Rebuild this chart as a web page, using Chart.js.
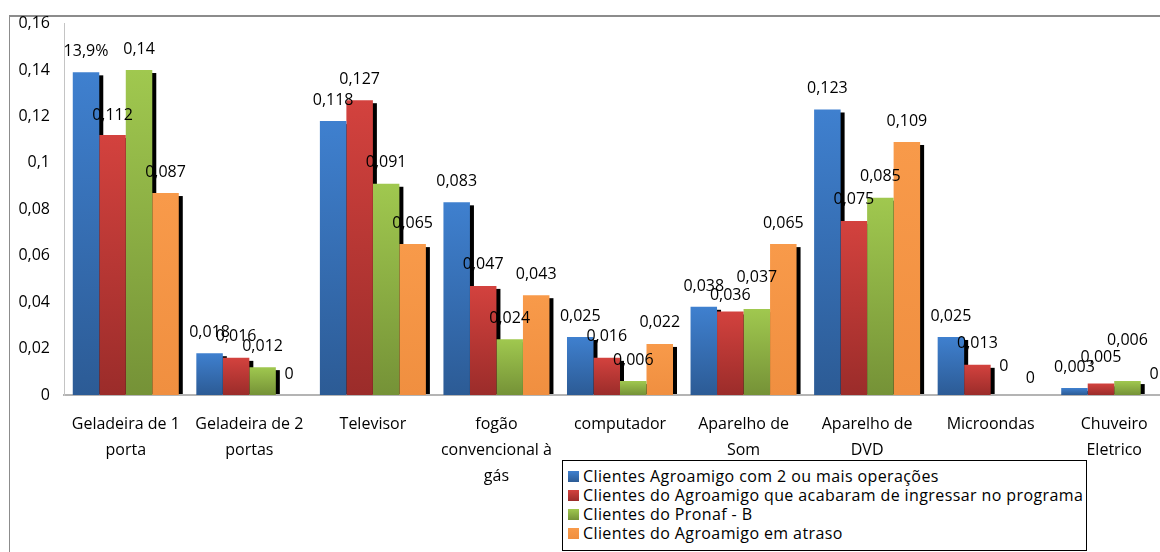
<!DOCTYPE html>
<html>
<head>
<meta charset="utf-8">
<script src="https://cdn.jsdelivr.net/npm/chart.js@4.4.1/dist/chart.umd.min.js"></script>
<style>
  html, body { margin: 0; padding: 0; background: #fff; overflow: hidden; width: 1160px; height: 552px; }
  #frame { position: absolute; left: 9px; top: 15px; width: 2000px; height: 1000px;
           border-top: 2px solid #8c8c8c; border-left: 1px solid #8c8c8c; }
  #wrap { position: absolute; left: 0; top: 0; width: 1200px; height: 552px; }
  #legend { position: absolute; left: 562px; top: 460px; width: 525px; height: 91px; box-sizing: border-box;
            border: 1px solid #000; background: #fff; padding-top: 6px;
            font-family: "Open Sans", sans-serif; font-size: 16px; color: #000; letter-spacing: 0.4px; }
  .row { height: 19px; line-height: 19px; white-space: nowrap; display: flex; align-items: center; }
  .sw { width: 11px; height: 11px; margin-left: 5px; margin-right: 4px; flex: none; }
</style>
</head>
<body>
<div id="frame"></div>
<div id="wrap"><canvas id="c" width="1200" height="552"></canvas></div>
<div id="legend"></div>
<script>
// ---- data ----
const categories = [
  ["Geladeira de 1", "porta"],
  ["Geladeira de 2", "portas"],
  "Televisor",
  ["fogão", "convencional à", "gás"],
  "computador",
  ["Aparelho de", "Som"],
  ["Aparelho de", "DVD"],
  "Microondas",
  ["Chuveiro", "Eletrico"]
];
const seriesNames = [
  "Clientes Agroamigo com 2 ou mais operações",
  "Clientes do Agroamigo que acabaram de ingressar no programa",
  "Clientes do Pronaf - B",
  "Clientes do Agroamigo em atraso"
];
const agroamigo2mais = [0.139, 0.018, 0.118, 0.083, 0.025, 0.038, 0.123, 0.025, 0.003];
const agroamigoNovos = [0.112, 0.016, 0.127, 0.047, 0.016, 0.036, 0.075, 0.013, 0.005];
const pronafB        = [0.14, 0.012, 0.091, 0.024, 0.006, 0.037, 0.085, 0, 0.006];
const agroamigoAtraso = [0.087, 0, 0.065, 0.043, 0.022, 0.065, 0.109, 0, 0];
const yTicks = [0, 0.02, 0.04, 0.06, 0.08, 0.1, 0.12, 0.14, 0.16];
// label text overrides (series index, category index)
const labelOverrides = { "0,0": "13,9%" };

// ---- styles ----
const colors = [
  { top: "#3f80cf", bottom: "#2c5b95", flat: "#3a6fb4" },
  { top: "#d3423e", bottom: "#9b2c2a", flat: "#c0393a" },
  { top: "#a0c84f", bottom: "#759237", flat: "#8eb043" },
  { top: "#f89a4a", bottom: "#f08f40", flat: "#f79646" }
];
const labelDy = { "2,8": -20, "1,8": -5, "2,7": -8, "3,7": 4, "1,0": 1, "1,5": 5, "2,5": -11, "0,5": 1 };
const FONT = '"Open Sans", sans-serif';

function fmt(v) {
  return String(Math.round(v * 1000) / 1000).replace('.', ',');
}

function gradFor(ci) {
  return (ctx) => {
    const chart = ctx.chart;
    const ys = chart.scales && chart.scales.y;
    if (!ys || ctx.type !== 'data' || !chart.chartArea) return colors[ci].flat;
    const v = ctx.raw;
    const y0 = ys.getPixelForValue(v), y1 = ys.getPixelForValue(0);
    if (!isFinite(y0) || !isFinite(y1) || y1 - y0 < 1) return colors[ci].top;
    const g = chart.ctx.createLinearGradient(0, y0, 0, y1);
    g.addColorStop(0, colors[ci].top);
    g.addColorStop(1, colors[ci].bottom);
    return g;
  };
}

const allSeries = [agroamigo2mais, agroamigoNovos, pronafB, agroamigoAtraso];

const shadowPlugin = {
  id: 'shadows',
  beforeDatasetsDraw(chart) {
    const c = chart.ctx, a = chart.chartArea;
    c.save();
    c.beginPath();
    c.rect(a.left, 0, a.right - a.left + 20, a.bottom - 1);
    c.clip();
    c.fillStyle = '#000';
    chart.data.datasets.forEach((d, i) => {
      chart.getDatasetMeta(i).data.forEach(el => {
        const h = el.base - el.y;
        if (h <= 0.5) return;
        c.fillRect(el.x - el.width / 2 + 4, el.y + 3, el.width, h);
      });
    });
    c.restore();
  }
};

const labelPlugin = {
  id: 'valueLabels',
  afterDatasetsDraw(chart) {
    const c = chart.ctx;
    c.save();
    c.font = '16px ' + FONT;
    c.fillStyle = '#000';
    c.textAlign = 'center';
    c.textBaseline = 'middle';
    chart.data.datasets.forEach((d, i) => {
      chart.getDatasetMeta(i).data.forEach((el, j) => {
        const key = i + ',' + j;
        const txt = labelOverrides[key] || fmt(d.data[j]);
        const dy = labelDy[key] || 0;
        c.fillText(txt, el.x, el.y - 21 + dy);
      });
    });
    c.restore();
  }
};

new Chart(document.getElementById('c'), {
  type: 'bar',
  data: {
    labels: categories,
    datasets: allSeries.map((arr, i) => ({
      label: seriesNames[i],
      data: arr,
      backgroundColor: gradFor(i),
      borderWidth: 0,
      categoryPercentage: 0.858,
      barPercentage: 1.0
    }))
  },
  options: {
    responsive: false,
    animation: false,
    events: [],
    layout: { padding: { top: 23, right: 24, left: 0, bottom: 0 } },
    plugins: { legend: { display: false }, tooltip: { enabled: false } },
    scales: {
      x: {
        grid: { display: false, drawTicks: false },
        border: { display: true, color: '#b4b4b4', width: 2 },
        ticks: {
          color: '#000',
          font: { family: FONT, size: 16, lineHeight: '26px' },
          padding: 16,
          maxRotation: 0,
          autoSkip: false
        },
        afterFit(scale) { scale.height = 157; }
      },
      y: {
        min: 0, max: 0.16,
        grid: { display: false, drawTicks: false },
        border: { display: true, color: '#c4c4c4', width: 1 },
        afterBuildTicks(scale) { scale.ticks = yTicks.map(v => ({ value: v })); },
        ticks: {
          color: '#000',
          font: { family: FONT, size: 16 },
          padding: 14,
          callback: (v) => fmt(v)
        },
        afterFit(scale) { scale.width = 64; }
      }
    }
  },
  plugins: [shadowPlugin, labelPlugin]
});

// HTML legend
const lg = document.getElementById('legend');
seriesNames.forEach((n, i) => {
  const r = document.createElement('div');
  r.className = 'row';
  const s = document.createElement('span');
  s.className = 'sw';
  s.style.background = 'linear-gradient(' + colors[i].top + ',' + colors[i].bottom + ')';
  const t = document.createElement('span');
  t.textContent = n;
  r.appendChild(s); r.appendChild(t);
  lg.appendChild(r);
});
</script>
</body>
</html>
